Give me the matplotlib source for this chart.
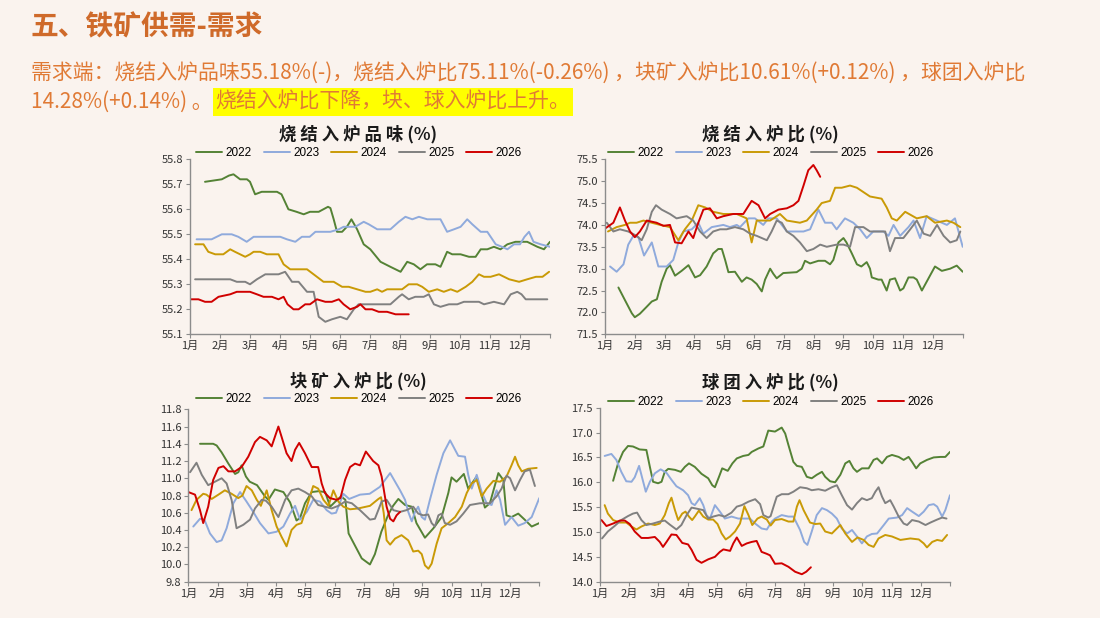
import matplotlib
matplotlib.use('Agg')
import matplotlib.pyplot as plt
import matplotlib.transforms as mtrans
import numpy as np

plt.rcParams['font.family'] = ['Noto Sans CJK SC', 'DejaVu Sans']

# ---------------- data (month position, value); 0 = start of 1月 ----------------
months = ['1月', '2月', '3月', '4月', '5月', '6月', '7月', '8月', '9月', '10月', '11月', '12月']
years = ['2022', '2023', '2024', '2025', '2026']

# 烧结入炉品味
grade_2022 = [(0.5,55.71),(0.78,55.715),(1.06,55.72),(1.3,55.735),(1.45,55.74),(1.67,55.72),(1.9,55.72),(2.0,55.71),
              (2.17,55.66),(2.39,55.67),(2.9,55.67),(3.05,55.66),(3.28,55.60),(3.55,55.59),(3.79,55.58),(4.0,55.59),
              (4.29,55.59),(4.6,55.61),(4.68,55.605),(4.79,55.56),(4.9,55.51),(5.07,55.51),(5.23,55.53),(5.38,55.56),
              (5.57,55.52),(5.79,55.46),(6.01,55.44),(6.35,55.39),(6.68,55.37),(7.02,55.35),(7.24,55.39),(7.46,55.38),
              (7.68,55.36),(7.9,55.38),(8.18,55.38),(8.35,55.37),(8.57,55.43),(8.74,55.42),(9.02,55.42),(9.3,55.41),
              (9.52,55.41),(9.69,55.44),(9.91,55.44),(10.13,55.45),(10.35,55.44),(10.58,55.46),(10.85,55.47),
              (11.24,55.47),(11.58,55.45),(11.8,55.44),(12.0,55.47)]
grade_2023 = [(0.22,55.48),(0.72,55.48),(1.06,55.50),(1.39,55.50),(1.61,55.49),(1.89,55.47),(2.12,55.49),(2.39,55.49),
              (3.01,55.49),(3.23,55.48),(3.51,55.47),(3.73,55.49),(3.99,55.49),(4.18,55.51),(4.68,55.51),(4.96,55.52),
              (5.12,55.53),(5.51,55.53),(5.79,55.55),(5.96,55.54),(6.24,55.52),(6.68,55.52),(6.96,55.55),(7.18,55.57),
              (7.41,55.56),(7.63,55.57),(7.91,55.56),(8.35,55.56),(8.57,55.51),(8.8,55.52),(9.02,55.53),(9.24,55.56),
              (9.41,55.54),(9.69,55.51),(9.91,55.51),(10.19,55.46),(10.4,55.45),(10.58,55.44),(10.8,55.46),
              (11.0,55.46),(11.15,55.49),(11.3,55.51),(11.45,55.47),(11.69,55.46),(12.0,55.45)]
grade_2024 = [(0.17,55.46),(0.45,55.46),(0.61,55.43),(0.84,55.42),(1.11,55.42),(1.34,55.44),(1.5,55.43),(1.84,55.41),
              (2.0,55.42),(2.12,55.43),(2.34,55.43),(2.56,55.42),(2.95,55.42),(3.12,55.38),(3.34,55.36),(3.9,55.36),
              (4.23,55.33),(4.45,55.31),(4.79,55.31),(5.07,55.29),(5.29,55.29),(5.57,55.28),(5.85,55.27),(6.01,55.27),
              (6.24,55.28),(6.4,55.27),(6.57,55.28),(6.9,55.28),(7.07,55.28),(7.29,55.30),(7.57,55.30),(7.74,55.29),
              (7.96,55.27),(8.24,55.28),(8.46,55.27),(8.69,55.28),(8.91,55.27),(9.19,55.29),(9.41,55.31),(9.63,55.34),
              (9.8,55.33),(10.02,55.33),(10.3,55.34),(10.64,55.32),(10.97,55.31),(11.24,55.32),(11.53,55.33),
              (11.75,55.33),(11.97,55.35)]
grade_2025 = [(0.17,55.32),(1.34,55.32),(1.56,55.31),(1.84,55.31),(2.0,55.30),(2.23,55.32),(2.51,55.34),(2.95,55.34),
              (3.17,55.35),(3.4,55.31),(3.62,55.31),(3.9,55.27),(4.12,55.27),(4.29,55.17),(4.51,55.15),(4.73,55.16),
              (5.01,55.17),(5.23,55.16),(5.46,55.20),(5.62,55.22),(6.68,55.22),(6.96,55.25),(7.07,55.26),(7.29,55.24),
              (7.51,55.25),(7.79,55.25),(7.96,55.26),(8.13,55.22),(8.35,55.21),(8.63,55.22),(8.91,55.22),(9.13,55.23),
              (9.63,55.23),(9.8,55.22),(10.13,55.23),(10.47,55.22),(10.69,55.26),(10.91,55.27),(11.05,55.26),
              (11.19,55.24),(11.91,55.24)]
grade_2026 = [(0.0,55.24),(0.28,55.24),(0.5,55.23),(0.72,55.23),(0.95,55.25),(1.34,55.26),(1.56,55.27),(2.0,55.27),
              (2.23,55.26),(2.45,55.25),(2.73,55.25),(2.95,55.24),(3.12,55.25),(3.25,55.22),(3.45,55.20),(3.62,55.20),
              (3.84,55.22),(4.0,55.22),(4.23,55.24),(4.51,55.23),(4.73,55.23),(4.96,55.24),(5.12,55.22),(5.34,55.20),
              (5.57,55.21),(5.68,55.22),(5.85,55.20),(6.07,55.20),(6.29,55.19),(6.57,55.19),(6.85,55.18),(7.29,55.18)]

# 烧结入炉比
sinter_2022 = [(0.45,72.57),(0.67,72.28),(0.9,71.98),(1.0,71.89),(1.17,71.97),(1.4,72.13),(1.57,72.25),(1.74,72.3),
               (1.9,72.7),(2.07,73.0),(2.18,73.08),(2.35,72.84),(2.57,72.95),(2.8,73.08),(3.02,72.8),(3.19,72.85),
               (3.41,73.05),(3.63,73.35),(3.8,73.45),(3.92,73.45),(4.03,73.2),(4.14,72.92),(4.36,72.93),(4.59,72.7),
               (4.75,72.8),(4.92,72.75),(5.09,72.65),(5.26,72.48),(5.37,72.75),(5.54,73.0),(5.65,72.88),(5.76,72.78),
               (5.98,72.9),(6.43,72.92),(6.6,73.0),(6.71,73.18),(6.88,73.12),(7.16,73.18),(7.38,73.18),(7.55,73.1),
               (7.66,73.2),(7.83,73.6),(8.0,73.7),(8.1,73.6),(8.28,73.35),(8.45,73.1),(8.6,73.05),(8.78,73.15),
               (8.89,73.0),(8.95,72.8),(9.17,72.75),(9.28,72.75),(9.45,72.5),(9.56,72.75),(9.73,72.78),(9.9,72.5),
               (10.01,72.55),(10.18,72.8),(10.35,72.8),(10.46,72.75),(10.63,72.5),(10.79,72.7),(11.07,73.05),
               (11.3,72.95),(11.58,73.0),(11.8,73.07),(12.0,72.93)]
sinter_2023 = [(0.17,73.05),(0.39,72.93),(0.62,73.1),(0.78,73.55),(0.95,73.75),(1.12,73.72),(1.31,73.3),(1.57,73.6),
               (1.79,73.05),(2.07,73.05),(2.29,73.2),(2.46,73.6),(2.63,73.85),(2.91,73.9),(3.13,74.05),(3.3,73.8),
               (3.58,73.95),(3.97,74.0),(4.19,73.95),(4.42,74.0),(4.53,73.95),(4.81,74.15),(5.03,74.15),(5.31,74.0),
               (5.48,74.15),(5.76,74.15),(6.1,73.85),(6.66,73.85),(6.88,73.9),(7.16,74.35),(7.38,74.05),(7.61,74.05),
               (7.77,73.9),(8.05,74.15),(8.33,74.05),(8.56,73.9),(8.78,73.7),(9.0,73.85),(9.34,73.85),(9.51,73.75),
               (9.68,74.0),(9.9,73.75),(10.18,73.95),(10.35,74.1),(10.57,73.7),(10.79,74.2),(11.13,74.1),(11.47,74.0),
               (11.74,74.15),(12.0,73.5)]
sinter_2024 = [(0.1,73.85),(0.39,73.95),(0.67,74.0),(0.84,74.05),(1.06,74.05),(1.29,74.1),(1.57,74.05),(1.85,74.0),
               (2.18,73.95),(2.46,73.65),(2.68,73.9),(2.91,74.1),(3.13,74.45),(3.36,74.4),(3.63,74.3),(3.97,74.25),
               (4.42,74.25),(4.75,74.15),(4.92,73.6),(5.09,74.1),(5.26,74.1),(5.54,74.1),(5.87,74.25),(6.1,74.1),
               (6.54,74.05),(6.77,74.1),(7.1,74.35),(7.27,74.5),(7.55,74.55),(7.72,74.85),(7.94,74.85),(8.22,74.9),
               (8.45,74.85),(8.67,74.75),(8.89,74.65),(9.28,74.6),(9.45,74.4),(9.62,74.15),(9.79,74.1),(10.07,74.3),
               (10.46,74.15),(10.79,74.2),(11.07,74.05),(11.47,74.1),(11.69,74.05),(11.92,73.95)]
sinter_2025 = [(0.06,74.05),(0.28,73.85),(0.5,73.9),(0.78,73.85),(1.06,73.75),(1.23,73.65),(1.4,73.9),(1.57,74.3),
               (1.71,74.45),(1.9,74.35),(2.18,74.25),(2.4,74.15),(2.74,74.2),(2.96,74.1),(3.19,73.85),(3.41,73.7),
               (3.63,73.85),(3.86,73.9),(4.08,73.9),(4.36,73.95),(4.64,73.9),(4.87,73.8),(5.09,73.75),(5.43,73.65),
               (5.59,73.85),(5.76,74.1),(5.93,74.05),(6.1,73.85),(6.32,73.75),(6.54,73.6),(6.77,73.4),(6.99,73.45),
               (7.22,73.55),(7.44,73.5),(7.77,73.55),(8.0,73.55),(8.22,73.5),(8.39,73.95),(8.67,73.95),(8.89,73.85),
               (9.17,73.85),(9.4,73.85),(9.56,73.4),(9.73,73.7),(10.01,73.7),(10.24,73.9),(10.46,74.1),(10.69,73.8),
               (10.91,73.75),(11.14,74.0),(11.36,73.75),(11.58,73.6),(11.8,73.65),(11.92,73.85)]
sinter_2026 = [(0.03,73.93),(0.28,74.05),(0.5,74.4),(0.67,74.1),(0.84,73.85),(1.0,73.72),(1.17,73.85),(1.4,74.1),
               (1.73,74.05),(1.96,73.98),(2.18,74.0),(2.35,73.6),(2.57,73.58),(2.8,73.85),(2.96,73.7),(3.13,74.05),
               (3.3,74.35),(3.52,74.38),(3.75,74.15),(3.97,74.2),(4.3,74.25),(4.64,74.25),(4.92,74.55),(5.15,74.45),
               (5.37,74.15),(5.54,74.25),(5.82,74.35),(6.1,74.38),(6.32,74.45),(6.49,74.55),(6.66,74.9),(6.82,75.25),
               (6.99,75.37),(7.1,75.25),(7.22,75.1)]

# 块矿入炉比
lump_2022 = [(0.4,11.40),(0.85,11.40),(0.97,11.38),(1.14,11.30),(1.37,11.17),(1.6,11.05),(1.71,11.07),(1.82,11.15),
             (1.97,11.02),(2.1,10.96),(2.35,10.92),(2.62,10.79),(2.74,10.75),(2.96,10.87),(3.25,10.84),(3.48,10.72),
             (3.7,10.51),(3.82,10.54),(3.99,10.71),(4.22,10.84),(4.45,10.85),(4.68,10.84),(4.85,10.67),(5.0,10.72),
             (5.22,10.79),(5.37,10.75),(5.48,10.36),(5.65,10.25),(5.93,10.07),(6.21,10.0),(6.38,10.12),(6.6,10.38),
             (6.84,10.58),(7.0,10.68),(7.18,10.76),(7.41,10.69),(7.64,10.67),(7.8,10.48),(8.09,10.31),(8.38,10.42),
             (8.66,10.55),(8.89,10.83),(9.0,11.01),(9.17,10.96),(9.42,11.05),(9.57,10.88),(9.86,11.02),(10.14,10.66),
             (10.31,10.71),(10.6,11.06),(10.77,10.98),(10.88,10.57),(11.05,10.55),(11.28,10.59),(11.5,10.52),
             (11.74,10.44),(12.0,10.48)]
lump_2023 = [(0.17,10.44),(0.4,10.53),(0.55,10.52),(0.74,10.36),(0.97,10.26),(1.14,10.28),(1.31,10.42),(1.54,10.71),
             (1.77,10.84),(1.99,10.73),(2.22,10.61),(2.45,10.48),(2.74,10.36),(3.02,10.38),(3.25,10.44),(3.48,10.59),
             (3.65,10.68),(3.82,10.52),(4.05,10.61),(4.27,10.75),(4.5,10.73),(4.73,10.63),(4.9,10.59),(5.05,10.60),
             (5.3,10.82),(5.5,10.76),(5.87,10.81),(6.2,10.82),(6.55,10.90),(6.9,11.06),(7.07,10.96),(7.24,10.86),
             (7.41,10.75),(7.52,10.61),(7.64,10.50),(7.75,10.61),(7.86,10.67),(7.98,10.55),(8.09,10.52),(8.26,10.75),
             (8.49,11.04),(8.72,11.29),(8.95,11.44),(9.23,11.26),(9.46,11.25),(9.57,11.04),(9.69,10.88),(9.86,11.04),
             (10.03,10.84),(10.2,10.71),(10.37,10.69),(10.54,10.86),(10.66,10.75),(10.83,10.46),(11.05,10.55),
             (11.28,10.45),(11.5,10.48),(11.74,10.55),(12.0,10.77)]
lump_2024 = [(0.11,10.63),(0.28,10.75),(0.51,10.82),(0.62,10.81),(0.8,10.76),(1.03,10.81),(1.25,10.86),(1.48,10.82),
             (1.71,10.77),(1.85,10.80),(1.99,10.91),(2.17,10.86),(2.34,10.75),(2.48,10.68),(2.68,10.86),(2.85,10.63),
             (3.02,10.44),(3.19,10.32),(3.36,10.21),(3.53,10.40),(3.7,10.46),(3.87,10.48),(4.05,10.67),(4.27,10.91),
             (4.44,10.88),(4.62,10.75),(4.79,10.68),(4.96,10.86),(5.13,10.73),(5.3,10.67),(5.53,10.64),(5.81,10.65),
             (6.21,10.68),(6.5,10.76),(6.59,10.78),(6.68,10.60),(6.78,10.28),(6.9,10.23),(7.07,10.30),(7.29,10.34),
             (7.52,10.28),(7.69,10.15),(7.86,10.16),(7.98,10.12),(8.09,9.99),(8.21,9.95),(8.32,10.01),(8.49,10.24),
             (8.66,10.42),(8.89,10.48),(9.12,10.55),(9.35,10.67),(9.52,10.83),(9.69,10.94),(9.86,10.98),(10.03,10.79),
             (10.2,10.88),(10.43,10.97),(10.66,10.96),(10.88,11.02),(11.05,11.15),(11.17,11.25),(11.28,11.15),
             (11.4,11.08),(11.62,11.11),(11.91,11.12)]
lump_2025 = [(0.06,11.07),(0.28,11.18),(0.46,11.04),(0.68,10.92),(0.91,10.96),(1.14,11.0),(1.31,10.94),(1.48,10.75),
             (1.65,10.42),(1.88,10.46),(2.11,10.52),(2.28,10.65),(2.51,10.75),(2.65,10.74),(2.85,10.67),(3.08,10.55),
             (3.31,10.75),(3.53,10.86),(3.76,10.88),(3.99,10.84),(4.22,10.79),(4.44,10.69),(4.67,10.67),(4.9,10.65),
             (5.13,10.68),(5.36,10.73),(5.59,10.71),(5.87,10.63),(6.21,10.52),(6.38,10.53),(6.61,10.73),(6.78,10.75),
             (7.01,10.63),(7.24,10.61),(7.46,10.63),(7.69,10.67),(7.86,10.59),(8.03,10.57),(8.2,10.58),(8.32,10.48),
             (8.43,10.44),(8.55,10.57),(8.66,10.59),(8.77,10.48),(8.95,10.46),(9.17,10.50),(9.4,10.59),(9.63,10.69),
             (9.97,10.71),(10.31,10.71),(10.54,10.79),(10.71,10.88),(10.88,11.03),(11.0,11.0),(11.17,10.86),
             (11.34,10.98),(11.5,11.08),(11.68,11.10),(11.85,10.91)]
lump_2026 = [(0.0,10.84),(0.23,10.81),(0.4,10.63),(0.51,10.48),(0.68,10.67),(0.85,10.98),(1.03,11.12),(1.2,11.14),
             (1.37,11.08),(1.6,11.08),(1.82,11.13),(2.05,11.25),(2.28,11.42),(2.45,11.48),(2.68,11.44),(2.85,11.37),
             (3.08,11.60),(3.19,11.48),(3.36,11.29),(3.53,11.20),(3.65,11.33),(3.79,11.41),(3.99,11.29),(4.22,11.13),
             (4.44,11.13),(4.56,10.94),(4.67,10.83),(4.84,10.77),(5.07,10.75),(5.2,10.77),(5.36,10.98),(5.53,11.13),
             (5.7,11.17),(5.87,11.15),(6.07,11.31),(6.32,11.20),(6.5,11.15),(6.61,11.02),(6.78,10.67),(6.9,10.53),
             (7.01,10.50),(7.12,10.57),(7.24,10.61)]

# 球团入炉比
pellet_2022 = [(0.45,16.03),(0.62,16.38),(0.79,16.61),(0.96,16.73),(1.13,16.72),(1.36,16.66),(1.59,16.65),(1.71,16.31),
               (1.82,16.01),(1.99,15.98),(2.11,16.01),(2.22,16.21),(2.34,16.27),(2.57,16.25),(2.77,16.21),(2.91,16.31),
               (3.05,16.38),(3.25,16.31),(3.48,16.17),(3.71,16.08),(3.85,15.94),(3.94,15.90),(4.08,16.11),(4.19,16.28),
               (4.38,16.23),(4.54,16.38),(4.69,16.48),(4.91,16.53),(5.09,16.55),(5.2,16.61),(5.43,16.68),(5.6,16.72),
               (5.77,17.04),(6.0,17.02),(6.23,17.10),(6.35,16.98),(6.46,16.75),(6.63,16.41),(6.75,16.33),(6.92,16.31),
               (7.09,16.11),(7.26,16.08),(7.43,16.15),(7.61,16.21),(7.72,16.11),(7.89,16.02),(8.06,16.00),(8.24,16.15),
               (8.41,16.38),(8.55,16.43),(8.69,16.28),(8.81,16.21),(8.98,16.28),(9.21,16.28),(9.38,16.45),(9.5,16.48),
               (9.67,16.38),(9.84,16.51),(10.01,16.55),(10.24,16.51),(10.41,16.45),(10.58,16.51),(10.7,16.41),
               (10.84,16.28),(10.98,16.38),(11.21,16.45),(11.44,16.50),(11.67,16.51),(11.84,16.51),(12.0,16.61)]
pellet_2023 = [(0.16,16.53),(0.39,16.57),(0.56,16.45),(0.73,16.21),(0.9,16.02),(1.08,16.01),(1.19,16.10),(1.34,16.33),
               (1.45,16.08),(1.57,15.81),(1.71,16.01),(1.88,16.18),(2.08,16.26),(2.28,16.19),(2.45,16.05),(2.62,15.92),
               (2.85,15.84),(3.02,15.74),(3.14,15.58),(3.25,15.54),(3.42,15.68),(3.54,15.54),(3.65,15.34),(3.77,15.27),
               (3.94,15.54),(4.11,15.41),(4.28,15.27),(4.51,15.31),(4.74,15.27),(4.97,15.27),(5.14,15.27),(5.32,15.17),
               (5.54,15.07),(5.72,15.05),(5.89,15.21),(6.0,15.27),(6.23,15.34),(6.46,15.31),(6.63,15.31),(6.86,15.04),
               (7.0,14.80),(7.11,14.74),(7.26,15.01),(7.43,15.34),(7.61,15.48),(7.78,15.44),(7.95,15.37),(8.12,15.27),
               (8.29,15.07),(8.47,14.97),(8.64,15.04),(8.81,14.91),(8.98,14.77),(9.15,14.91),(9.32,14.96),(9.5,14.97),
               (9.73,15.14),(9.9,15.27),(10.18,15.29),(10.36,15.34),(10.53,15.48),(10.7,15.41),(10.93,15.32),
               (11.1,15.41),(11.27,15.54),(11.44,15.56),(11.56,15.51),(11.73,15.31),(11.84,15.44),(12.0,15.74)]
pellet_2024 = [(0.16,15.54),(0.27,15.37),(0.45,15.24),(0.68,15.19),(0.9,15.19),(1.08,15.11),(1.25,15.05),(1.42,15.11),
               (1.65,15.17),(1.88,15.14),(2.05,15.17),(2.22,15.34),(2.36,15.58),(2.45,15.69),(2.57,15.44),(2.68,15.24),
               (2.82,15.37),(2.93,15.41),(3.05,15.31),(3.16,15.24),(3.25,15.31),(3.39,15.43),(3.54,15.31),(3.71,15.25),
               (3.88,15.25),(4.03,15.16),(4.17,14.97),(4.31,14.85),(4.46,14.91),(4.63,15.01),(4.8,15.17),(4.95,15.52),
               (5.09,15.34),(5.22,15.14),(5.4,15.27),(5.54,15.31),(5.72,15.25),(5.85,15.13),(6.0,15.24),(6.23,15.26),
               (6.46,15.21),(6.63,15.21),(6.75,15.51),(6.84,15.64),(6.98,15.44),(7.2,15.19),(7.38,15.16),(7.55,15.17),
               (7.72,15.01),(7.95,14.97),(8.12,15.07),(8.24,15.14),(8.41,14.97),(8.64,14.80),(8.83,14.89),(9.04,14.84),
               (9.21,14.74),(9.38,14.70),(9.55,14.87),(9.78,14.94),(10.01,14.91),(10.3,14.84),(10.64,14.87),
               (10.93,14.85),(11.1,14.77),(11.21,14.69),(11.39,14.80),(11.56,14.84),(11.73,14.82),(11.9,14.94)]
pellet_2025 = [(0.07,14.87),(0.27,15.01),(0.5,15.12),(0.73,15.24),(0.96,15.32),(1.13,15.37),(1.27,15.39),(1.42,15.24),
               (1.59,15.14),(1.82,15.17),(2.05,15.21),(2.22,15.23),(2.39,15.15),(2.62,15.05),(2.79,15.14),(2.97,15.34),
               (3.14,15.49),(3.31,15.47),(3.54,15.44),(3.71,15.27),(3.88,15.31),(4.08,15.34),(4.28,15.31),(4.51,15.39),
               (4.69,15.51),(4.86,15.54),(5.09,15.61),(5.32,15.66),(5.49,15.56),(5.6,15.34),(5.77,15.29),(5.85,15.32),
               (5.95,15.51),(6.06,15.71),(6.23,15.76),(6.46,15.76),(6.63,15.81),(6.86,15.90),(7.09,15.88),(7.26,15.84),
               (7.49,15.86),(7.72,15.83),(7.95,15.90),(8.12,15.94),(8.29,15.74),(8.47,15.54),(8.64,15.45),(8.81,15.58),
               (8.98,15.68),(9.15,15.64),(9.32,15.68),(9.44,15.81),(9.55,15.90),(9.67,15.71),(9.78,15.58),(9.95,15.64),
               (10.07,15.51),(10.24,15.31),(10.41,15.17),(10.53,15.14),(10.7,15.24),(10.93,15.21),(11.16,15.14),
               (11.33,15.19),(11.56,15.25),(11.73,15.29),(11.88,15.27)]
pellet_2026 = [(0.05,15.24),(0.22,15.12),(0.45,15.17),(0.68,15.23),(0.85,15.23),(1.02,15.16),(1.19,15.01),(1.42,14.88),
               (1.65,14.88),(1.88,14.90),(2.05,14.80),(2.16,14.70),(2.28,14.80),(2.45,14.95),(2.62,14.94),(2.82,14.78),
               (3.02,14.75),(3.14,14.64),(3.31,14.44),(3.48,14.38),(3.71,14.45),(3.94,14.50),(4.11,14.60),(4.23,14.65),
               (4.46,14.62),(4.57,14.77),(4.69,14.89),(4.86,14.72),(5.03,14.77),(5.2,14.80),(5.37,14.82),(5.54,14.60),
               (5.72,14.56),(5.83,14.53),(6.0,14.36),(6.23,14.37),(6.46,14.30),(6.69,14.20),(6.92,14.15),(7.07,14.20),
               (7.23,14.29)]

# ---------------- styling ----------------
W, H = 1100, 618
BG = '#FAF3EE'
year_colors = ['#548235', '#8FAADC', '#C99A06', '#808080', '#D00000']
AX_COLOR = '#8C8C8C'
TXT_COLOR = '#E07A35'

fig = plt.figure(figsize=(W / 100, H / 100), dpi=100, facecolor=BG)

def fx(px):
    return px / W

def fy(py):
    return 1 - py / H

# header texts
fig.text(fx(30), fy(27), '五、铁矿供需-需求', fontsize=20, fontweight='bold', color='#CF6A2A',
         va='center', ha='left')
fig.text(fx(31), fy(73), '需求端：烧结入炉品味55.18%(-)，烧结入炉比75.11%(-0.26%) ，块矿入炉比10.61%(+0.12%) ，球团入炉比',
         fontsize=15.0, color=TXT_COLOR, va='center', ha='left')
t1 = fig.text(fx(31), fy(102), '14.28%(+0.14%) 。', fontsize=15.0, color=TXT_COLOR, va='center', ha='left')
fig.canvas.draw()
ext = t1.get_window_extent(fig.canvas.get_renderer())
fig.text(ext.x1 / W + fx(3), fy(102), '烧结入炉比下降，块、球入炉比上升。', fontsize=15.0, color=TXT_COLOR,
         va='center', ha='left',
         bbox=dict(facecolor='#FFFF00', edgecolor='none', boxstyle='square,pad=0.14'))

panels = [
    dict(title='烧 结 入 炉 品 味 (%)', data=[grade_2022, grade_2023, grade_2024, grade_2025, grade_2026],
         ylim=(55.1, 55.8), nt=8, box=(190, 159.3, 550, 334.3), tx=358, ty=134, ly=153),
    dict(title='烧 结 入 炉 比 (%)', data=[sinter_2022, sinter_2023, sinter_2024, sinter_2025, sinter_2026],
         ylim=(71.5, 75.5), nt=9, box=(605, 159.3, 962.7, 334.3), tx=770, ty=134, ly=153),
    dict(title='块 矿 入 炉 比 (%)', data=[lump_2022, lump_2023, lump_2024, lump_2025, lump_2026],
         ylim=(9.8, 11.8), nt=11, box=(188.3, 409.3, 539.3, 581.7), tx=358, ty=381, ly=399),
    dict(title='球 团 入 炉 比 (%)', data=[pellet_2022, pellet_2023, pellet_2024, pellet_2025, pellet_2026],
         ylim=(14.0, 17.5), nt=8, box=(600, 407.7, 950, 581.7), tx=770, ty=382, ly=402),
]

for p in panels:
    x0, y0, x1, y1 = p['box']
    ax = fig.add_axes([fx(x0), fy(y1), (x1 - x0) / W, (y1 - y0) / H])
    ax.set_facecolor(BG)
    for yr, series, col in zip(years, p['data'], year_colors):
        xs, vs = zip(*series)
        ax.plot(xs, vs, color=col, lw=1.4, label=yr, solid_joinstyle='round', solid_capstyle='round')
    ax.set_xlim(0, 12)
    ax.set_ylim(*p['ylim'])
    ax.set_yticks(np.linspace(p['ylim'][0], p['ylim'][1], p['nt']))
    ax.yaxis.set_major_formatter(matplotlib.ticker.FormatStrFormatter('%.1f'))
    ax.set_xticks(range(13))
    ax.set_xticklabels(months + [''])
    offset = mtrans.ScaledTranslation(3 / 100, 0, fig.dpi_scale_trans)
    for lab in ax.get_xticklabels():
        lab.set_transform(lab.get_transform() + offset)
    for s in ['top', 'right']:
        ax.spines[s].set_visible(False)
    for s in ['left', 'bottom']:
        ax.spines[s].set_color(AX_COLOR)
        ax.spines[s].set_linewidth(1.0)
    ax.tick_params(axis='both', colors=AX_COLOR, length=3, width=0.8, labelsize=8, labelcolor='#333333', pad=2)
    fig.text(fx(p['tx']), fy(p['ty']), p['title'], fontsize=12.5, fontweight='bold', color='#1a1a1a',
             ha='center', va='center')
    ax.legend(loc='center', bbox_to_anchor=(fx(p['tx'] + 1), fy(p['ly'])), bbox_transform=fig.transFigure,
              ncol=5, frameon=False, handlelength=2.2, handletextpad=0.3, columnspacing=1.0,
              borderaxespad=0, borderpad=0, prop={'family': ['Liberation Sans', 'DejaVu Sans'], 'size': 8.5})

fig.savefig('out.png', dpi=100, facecolor=BG)
